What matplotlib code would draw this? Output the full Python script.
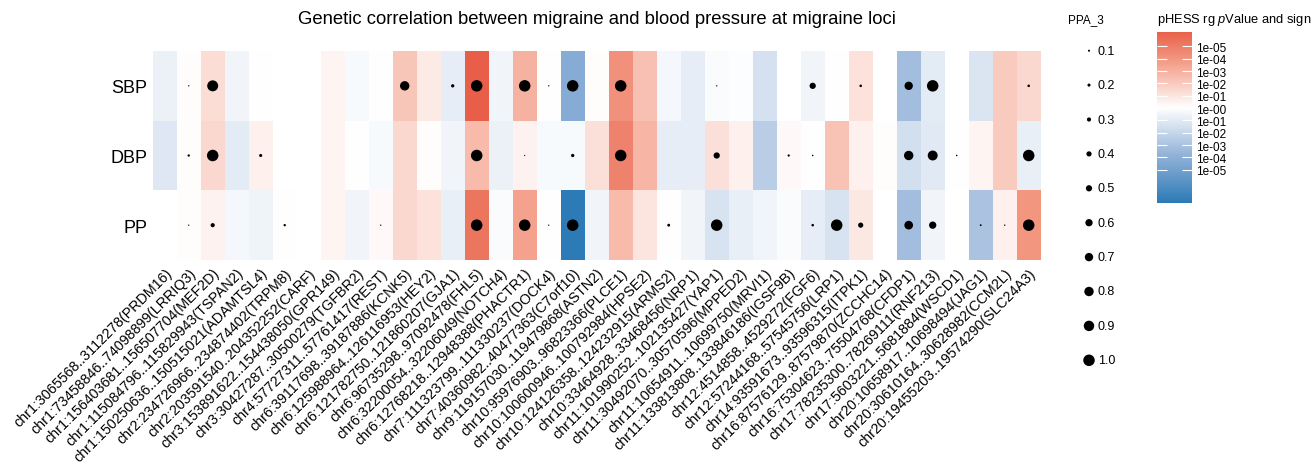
import numpy as np
import matplotlib
matplotlib.use('Agg')
import matplotlib.pyplot as plt
from matplotlib.colors import LinearSegmentedColormap, Normalize

plt.rcParams['font.family'] = ['Liberation Sans', 'DejaVu Sans']
plt.rcParams['mathtext.fontset'] = 'custom'
plt.rcParams['mathtext.it'] = 'Liberation Sans:italic'
plt.rcParams['mathtext.rm'] = 'Liberation Sans'

nan = np.nan

loci = ['chr1:3065568..3112278(PRDM16)', 'chr1:73458846..74098899(LRRIQ3)',
        'chr1:156403681..156507704(MEF2D)', 'chr1:115084796..115829943(TSPAN2)',
        'chr1:150250636..150515021(ADAMTSL4)', 'chr2:234726966..234874402(TRPM8)',
        'chr2:203591540..204352252(CARF)', 'chr3:153891622..154438050(GPR149)',
        'chr3:30427287..30500279(TGFBR2)', 'chr4:57727311..57761417(REST)',
        'chr6:39117698..39187886(KCNK5)', 'chr6:125988964..126116953(HEY2)',
        'chr6:121782750..121860207(GJA1)', 'chr6:96735298..97092478(FHL5)',
        'chr6:32200054..32206049(NOTCH4)', 'chr6:12768218..12948388(PHACTR1)',
        'chr7:111323799..111330237(DOCK4)', 'chr7:40360982..40477363(C7orf10)',
        'chr9:119157030..119479868(ASTN2)', 'chr10:95976903..96823366(PLCE1)',
        'chr10:100600946..100792984(HPSE2)', 'chr10:124126358..124232915(ARMS2)',
        'chr10:33464928..33468456(NRP1)', 'chr11:101990252..102135427(YAP1)',
        'chr11:30492070..30570596(MPPED2)', 'chr11:10654911..10699750(MRVI1)',
        'chr11:133813808..133846186(IGSF9B)', 'chr12:4514858..4529272(FGF6)',
        'chr12:57244168..57545756(LRP1)', 'chr14:93591673..93596315(ITPK1)',
        'chr16:87576129..87579870(ZCCHC14)', 'chr16:75304623..75504768(CFDP1)',
        'chr17:78235300..78269111(RNF213)', 'chr17:5603221..5681884(WSCD1)',
        'chr20:10658917..10698494(JAG1)', 'chr20:30610164..30628982(CCM2L)',
        'chr20:19455203..19574290(SLC24A3)']
traits = ['SBP', 'DBP', 'PP']

# signed -log10(p) of the pHESS rg
sbp_rg = [-0.7, 0.1, 1.3, -0.5, 0.05, nan, nan, 0.4, -0.3, 0.0, 2.2, 0.8, -0.9, 6.2, -0.5, 2.9,
          0.0, -4.3, 0.1, 4.2, 2.4, -0.4, -0.9, -0.2, -0.1, -1.5, nan, -0.5, 0.0, 1.1, nan, -3.3,
          -1.0, nan, -1.3, 2.0, 1.5]
dbp_rg = [-1.2, 0.1, 1.5, -1.0, 0.6, nan, nan, 0.4, 0.0, -0.3, 1.5, 0.1, -0.5, 2.6, -0.7, 0.5,
          -0.3, -0.3, 1.2, 4.8, 2.8, -0.9, -0.9, 1.2, 0.6, -2.5, 0.2, 0.0, 2.3, 0.6, 0.1, -1.6,
          -1.1, 0.05, 0.4, 2.0, -0.8]
pp_rg = [nan, 0.1, 0.5, -0.4, -0.6, 0.0, nan, 0.4, -0.5, 0.2, 1.5, 1.1, -0.8, 5.3, -0.2, 3.5,
         0.0, -7.7, -0.5, 2.6, 1.0, 0.0, -0.5, -1.4, -0.8, -0.5, -0.2, -0.9, -1.4, 0.9, nan, -3.3,
         -0.5, nan, -3.0, 0.6, 4.0]

# PPA_3 (dot size)
sbp_ppa = [nan, 0.03, 0.95, nan, nan, nan, nan, nan, nan, nan, 0.8, nan, 0.22, 1.0, nan, 1.0,
           0.03, 1.0, nan, 1.0, nan, nan, nan, 0.03, nan, nan, nan, 0.5, nan, 0.15, nan, 0.7,
           1.0, nan, nan, nan, 0.15]
dbp_ppa = [nan, 0.13, 1.0, nan, 0.2, nan, nan, nan, nan, nan, nan, nan, nan, 1.0, nan, 0.02,
           nan, 0.22, nan, 1.0, nan, nan, nan, 0.5, nan, nan, 0.12, 0.05, nan, nan, nan, 0.8,
           0.85, 0.05, nan, nan, 1.0]
pp_ppa = [nan, 0.03, 0.3, nan, nan, 0.13, nan, nan, nan, 0.03, nan, nan, nan, 1.0, nan, 1.0,
          0.03, 1.0, nan, nan, nan, 0.18, nan, 1.0, nan, nan, nan, 0.15, 1.0, 0.4, nan, 0.73,
          0.6, nan, 0.08, 0.04, 1.0]

ppa_levels = [0.1, 0.2, 0.3, 0.4, 0.5, 0.6, 0.7, 0.8, 0.9, 1.0]
cbar_ticks = [5, 4, 3, 2, 1, 0, -1, -2, -3, -4, -5]
cbar_labels = ['1e-05', '1e-04', '1e-03', '1e-02', '1e-01', '1e-00',
               '1e-01', '1e-02', '1e-03', '1e-04', '1e-05']

rg = np.array([sbp_rg, dbp_rg, pp_rg])
ppa = np.array([sbp_ppa, dbp_ppa, pp_ppa])

lim = np.nanmax(np.abs(rg))
cmap = LinearSegmentedColormap.from_list(
    'rg', [(0, '#2C7BB6'), (0.25, '#93B2D8'), (0.5, '#FFFFFF'), (0.75, '#F39A84'), (1, '#E23A23')])
norm = Normalize(-lim, lim)


def dot_area(p):
    diam_px = 1 + 10.5 * np.asarray(p)
    return (diam_px * 0.72) ** 2


W, H = 1312, 464
fig = plt.figure(figsize=(W / 100, H / 100), dpi=100)

ax = fig.add_axes([152.7 / W, 1 - 261 / H, 888 / W, 209 / H])
n = len(loci)
ax.pcolormesh(np.arange(n + 1), np.arange(len(traits) + 1), rg, cmap=cmap, norm=norm)
for i in range(len(traits)):
    ok = ~np.isnan(ppa[i])
    ax.scatter((np.arange(n) + 0.5)[ok], np.full(ok.sum(), i + 0.5), s=dot_area(ppa[i][ok]),
               color='black', linewidths=0)
ax.set_xlim(0, n)
ax.set_ylim(len(traits), 0)
ax.set_xticks(np.arange(n) + 0.5)
ax.set_xticklabels(loci, rotation=45, ha='right', va='top', rotation_mode='anchor', fontsize=10.3)
ax.set_yticks(np.arange(len(traits)) + 0.5)
ax.set_yticklabels(traits, fontsize=13)
ax.tick_params(length=0, pad=4)
for sp in ax.spines.values():
    sp.set_visible(False)

fig.text(596.7 / W, 1 - 20 / H, 'Genetic correlation between migraine and blood pressure at migraine loci',
         ha='center', va='center', fontsize=13.3)

# size legend
lax = fig.add_axes([0, 0, 1, 1])
lax.set_xlim(0, W)
lax.set_ylim(H, 0)
lax.axis('off')
lax.text(1068, 20, 'PPA_3', va='center', ha='left', fontsize=8.5)
ly = 51.7 + 34.4 * np.arange(len(ppa_levels))
lax.scatter(np.full(len(ppa_levels), 1089), ly, s=dot_area(ppa_levels), color='black', linewidths=0)
for y, v in zip(ly, ppa_levels):
    lax.text(1098, y, '%.1f' % v, va='center', ha='left', fontsize=9)
lax.text(1157, 20, r'pHESS rg $\mathit{p}$Value and sign', va='center', ha='left', fontsize=9.3)

# colour bar
cax = fig.add_axes([1157.3 / W, 1 - 204 / H, 35 / W, 171.3 / H])
lo, hi = np.nanmin(rg), np.nanmax(rg)
grad = np.linspace(lo, hi, 300).reshape(-1, 1)
cax.imshow(grad, cmap=cmap, norm=norm, aspect='auto', origin='lower', extent=[0, 1, lo, hi])
cax.set_xticks([])
cax.set_yticks(cbar_ticks)
cax.set_yticklabels(cbar_labels)
cax.tick_params(axis='y', direction='in', length=7, width=0.8, color='white', left=True, right=True,
                labelleft=False, labelright=True, labelsize=8.5, pad=3)
for sp in cax.spines.values():
    sp.set_visible(False)

fig.savefig('out.png', dpi=100)
